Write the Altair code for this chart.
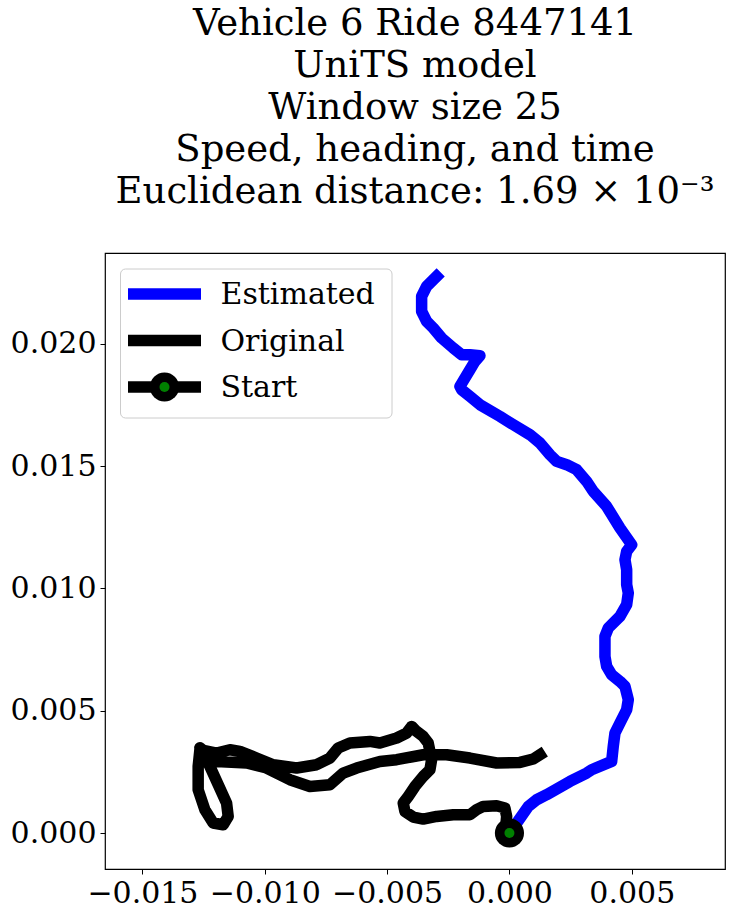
import altair as alt
import pandas as pd

# ---------------- data ----------------
est_x = [0.0, 0.294e-3, 0.769e-3, 1.112e-3, 1.521e-3, 2.473e-3, 3.156e-3, 3.360e-3, 4.178e-3, 4.243e-3,
         4.313e-3, 4.517e-3, 4.791e-3, 4.857e-3, 4.722e-3, 4.517e-3, 4.178e-3, 3.974e-3, 3.904e-3, 3.904e-3,
         4.039e-3, 4.517e-3, 4.791e-3, 4.857e-3, 4.791e-3, 4.791e-3, 4.722e-3, 4.791e-3, 4.996e-3, 4.517e-3,
         3.974e-3, 3.426e-3, 3.156e-3, 2.747e-3, 2.338e-3, 1.930e-3, 1.656e-3, 1.247e-3, 0.838e-3, 0.155e-3,
         -0.388e-3, -1.206e-3, -1.615e-3, -1.954e-3, -2.024e-3, -1.615e-3, -1.410e-3, -1.206e-3, -1.615e-3, -1.954e-3,
         -2.297e-3, -2.772e-3, -3.115e-3, -3.385e-3, -3.589e-3, -3.589e-3, -3.385e-3, -2.976e-3]
est_y = [0.0, 0.409e-3, 1.087e-3, 1.361e-3, 1.566e-3, 2.109e-3, 2.453e-3, 2.588e-3, 2.927e-3, 3.540e-3,
         4.088e-3, 4.497e-3, 5.041e-3, 5.449e-3, 5.993e-3, 6.197e-3, 6.471e-3, 6.811e-3, 7.219e-3, 8.037e-3,
         8.380e-3, 8.855e-3, 9.333e-3, 9.811e-3, 10.151e-3, 10.764e-3, 11.172e-3, 11.512e-3, 11.786e-3, 12.468e-3,
         13.352e-3, 13.965e-3, 14.374e-3, 14.852e-3, 15.056e-3, 15.191e-3, 15.465e-3, 15.943e-3, 16.283e-3, 16.692e-3,
         17.031e-3, 17.509e-3, 17.849e-3, 18.122e-3, 18.257e-3, 18.940e-3, 19.279e-3, 19.513e-3, 19.553e-3, 19.553e-3,
         19.827e-3, 20.236e-3, 20.644e-3, 20.914e-3, 21.323e-3, 21.936e-3, 22.345e-3, 22.754e-3]

orig_x = [0.0, -0.150e-3, -0.114e-3, -0.184e-3, -0.523e-3, -1.071e-3, -1.341e-3, -1.615e-3, -2.297e-3,
          -2.976e-3, -3.524e-3, -3.933e-3, -4.272e-3, -4.341e-3, -4.137e-3, -3.863e-3, -3.524e-3, -3.250e-3, -3.181e-3,
          -3.319e-3, -3.524e-3, -3.794e-3, -3.998e-3, -4.202e-3, -4.611e-3, -5.294e-3, -5.703e-3, -6.520e-3, -6.999e-3,
          -7.338e-3, -7.882e-3, -8.699e-3, -9.656e-3, -10.335e-3, -11.017e-3, -11.426e-3, -11.970e-3, -12.652e-3, -12.722e-3,
          -12.722e-3, -12.448e-3, -12.109e-3, -11.700e-3, -11.495e-3, -11.561e-3, -11.904e-3, -12.244e-3, -12.448e-3, -12.652e-3,
          -11.970e-3, -10.743e-3, -9.926e-3, -8.973e-3, -8.156e-3, -7.338e-3, -6.794e-3, -6.247e-3, -5.294e-3, -4.611e-3,
          -3.524e-3, -2.567e-3, -1.615e-3, -0.523e-3, 0.429e-3, 0.973e-3, 1.247e-3]
orig_y = [0.0, 0.300e-3, 0.679e-3, 1.022e-3, 1.116e-3, 1.087e-3, 0.953e-3, 0.748e-3, 0.748e-3,
          0.679e-3, 0.572e-3, 0.654e-3, 0.883e-3, 1.226e-3, 1.496e-3, 1.905e-3, 2.314e-3, 2.588e-3, 2.997e-3,
          3.679e-3, 3.949e-3, 4.153e-3, 4.358e-3, 4.088e-3, 3.884e-3, 3.679e-3, 3.745e-3, 3.679e-3, 3.475e-3,
          3.066e-3, 2.792e-3, 2.657e-3, 2.792e-3, 3.066e-3, 3.336e-3, 3.405e-3, 3.270e-3, 3.405e-3, 2.723e-3,
          1.770e-3, 0.952e-3, 0.409e-3, 0.339e-3, 0.679e-3, 1.226e-3, 1.975e-3, 2.723e-3, 3.131e-3, 3.487e-3,
          2.927e-3, 2.862e-3, 2.657e-3, 2.179e-3, 1.905e-3, 1.975e-3, 2.453e-3, 2.657e-3, 2.927e-3, 2.997e-3,
          3.201e-3, 3.201e-3, 3.066e-3, 2.862e-3, 2.886e-3, 3.025e-3, 3.201e-3]

start_x = [0.0]
start_y = [0.0]

x_ticks = [-0.015, -0.010, -0.005, 0.0, 0.005]
y_ticks = [0.0, 0.005, 0.010, 0.015, 0.020]
x_domain = [-0.01653, 0.00881]
y_domain = [-0.00147, 0.02371]

legend_labels = ["Estimated", "Original", "Start"]
legend_colors = ["#0000ff", "#000000", "#000000"]

title_lines = [
    "Vehicle 6 Ride 8447141",
    "UniTS model",
    "Window size 25",
    "Speed, heading, and time",
    "Euclidean distance: 1.69 × 10⁻³",
]

# ---------------- chart ----------------
FONT = "DejaVu Serif"
W, H = 620, 616
LW = 11.5

est_df = pd.DataFrame({"x": est_x, "y": est_y, "i": range(len(est_x))})
orig_df = pd.DataFrame({"x": orig_x, "y": orig_y, "i": range(len(orig_x))})
start_df = pd.DataFrame({"x": start_x, "y": start_y})

xs = alt.Scale(domain=x_domain, nice=False, zero=False)
ys = alt.Scale(domain=y_domain, nice=False, zero=False)
xax = alt.Axis(values=x_ticks, format=".3f", title=None, grid=False, domain=False)
yax = alt.Axis(values=y_ticks, format=".3f", title=None, grid=False, domain=False)

line_style = dict(strokeWidth=LW, strokeCap="square", strokeJoin="round", clip=True)

est = alt.Chart(est_df).mark_line(color="#0000ff", **line_style).encode(
    x=alt.X("x:Q", scale=xs, axis=xax),
    y=alt.Y("y:Q", scale=ys, axis=yax),
    order="i:Q",
)
orig = alt.Chart(orig_df).mark_line(color="#000000", **line_style).encode(
    x=alt.X("x:Q", scale=xs),
    y=alt.Y("y:Q", scale=ys),
    order="i:Q",
)
start_outer = alt.Chart(start_df).mark_point(
    filled=True, shape="circle", size=850, color="#000000", opacity=1
).encode(x=alt.X("x:Q", scale=xs), y=alt.Y("y:Q", scale=ys))
start_inner = alt.Chart(start_df).mark_point(
    filled=True, shape="circle", size=100, color="#008000", opacity=1
).encode(x=alt.X("x:Q", scale=xs), y=alt.Y("y:Q", scale=ys))

# ---- legend (drawn inside the plot, upper left) ----
leg_df = pd.DataFrame({"label": legend_labels})
box = alt.Chart(leg_df.head(1)).mark_rect(
    fill="white", fillOpacity=0.85, stroke="#cccccc", strokeWidth=1, cornerRadius=5
).encode(x=alt.value(15.5), x2=alt.value(287), y=alt.value(16), y2=alt.value(165))

row_y0, row_step = 41, 46.5
legend_layers = [box]
for k, (lab, col) in enumerate(zip(legend_labels, legend_colors)):
    yy = row_y0 + k * row_step
    row = leg_df[leg_df["label"] == lab]
    legend_layers.append(
        alt.Chart(row).mark_rule(color=col, strokeWidth=LW, strokeCap="butt").encode(
            x=alt.value(23), x2=alt.value(96), y=alt.value(yy)
        )
    )
    if lab == "Start":
        legend_layers.append(
            alt.Chart(row).mark_point(filled=True, shape="circle", size=850, color="#000000", opacity=1)
            .encode(x=alt.value(59.5), y=alt.value(yy))
        )
        legend_layers.append(
            alt.Chart(row).mark_point(filled=True, shape="circle", size=100, color="#008000", opacity=1)
            .encode(x=alt.value(59.5), y=alt.value(yy))
        )
    legend_layers.append(
        alt.Chart(row).mark_text(
            align="left", baseline="middle", font=FONT, fontSize=30, color="black"
        ).encode(x=alt.value(115.5), y=alt.value(yy + 1), text="label:N")
    )

chart = alt.layer(est, orig, start_outer, start_inner, *legend_layers).properties(
    width=W,
    height=H,
    background="white",
    autosize=alt.AutoSizeParams(type="none"),
    padding={"left": 105, "top": 253, "right": 7, "bottom": 47},
    title=alt.TitleParams(
        text=title_lines,
        font=FONT,
        fontSize=37,
        fontWeight="normal",
        lineHeight=42,
        color="black",
        anchor="middle",
        offset=42,
    ),
).configure_view(
    stroke="black", strokeWidth=1.2
).configure_axis(
    domain=False,
    grid=False,
    labelFont=FONT,
    labelFontSize=30,
    labelColor="black",
    tickColor="black",
    tickSize=5,
    tickWidth=1,
    labelPadding=4,
)

chart.save("out.html", embed_options={"renderer": "svg", "actions": False})
